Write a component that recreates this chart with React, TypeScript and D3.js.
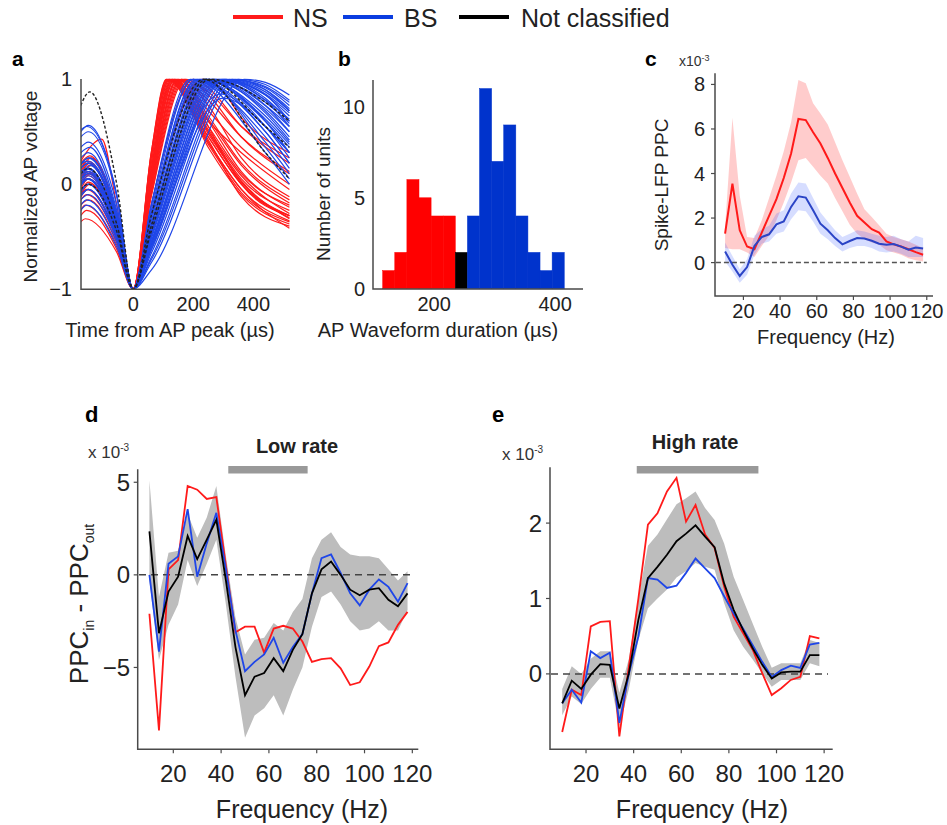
import * as d3 from 'd3';

const FONT = "'Liberation Sans', Arial, Helvetica, sans-serif";
const RED = '#ff1a1a';
const BLUE = '#1f46e8';
const BLUE_C = '#2b44c6';
const HIST_BLUE = '#0033cc';
const AXIS = '#4a4a4a';

// ---------- panel a: waveforms (control points)
// NS: [v(-175), bump, tBump, v(-55), v(60), tRepolPeak, v(250), v(360), v(520)]
const waveNS = [
  [0.05, 0.12, -150, -0.4, 0.3, 110, 0.45, 0.0, -0.3],
  [-0.1, -0.05, -155, -0.5, 0.25, 115, 0.4, -0.05, -0.35],
  [0.1, 0.2, -145, -0.35, 0.2, 120, 0.5, 0.05, -0.25],
  [-0.36, -0.33, -160, -0.65, 0.15, 125, 0.35, -0.1, -0.38],
  [0.22, 0.43, -105, -0.2, 0.12, 130, 0.6, 0.3, -0.05],
  [-0.2, -0.15, -150, -0.55, 0.28, 118, 0.42, -0.12, -0.4],
  [0.15, 0.25, -140, -0.3, 0.08, 135, 0.55, 0.1, -0.2],
  [-0.05, 0.05, -150, -0.45, 0.05, 140, 0.5, 0.02, -0.3],
  [0.2, 0.27, -145, -0.3, 0.0, 150, 0.7, 0.35, 0.0],
  [-0.15, -0.1, -155, -0.52, 0.3, 112, 0.38, -0.08, -0.36],
  [0.02, 0.1, -150, -0.42, 0.02, 145, 0.6, 0.12, -0.22],
  [-0.25, -0.2, -160, -0.58, 0.14, 128, 0.45, 0.0, -0.32],
  [0.1, 0.15, -150, -0.38, -0.05, 160, 0.8, 0.45, 0.12],
  [0.0, 0.08, -150, -0.43, -0.02, 155, 0.65, 0.2, -0.15],
  [-0.1, 0.0, -145, -0.48, -0.08, 165, 0.75, 0.25, -0.12],
  [0.05, 0.18, -140, -0.36, -0.1, 170, 0.88, 0.55, 0.25],
  [-0.3, -0.25, -155, -0.62, 0.2, 122, 0.4, -0.05, -0.42],
  [0.12, 0.2, -150, -0.34, 0.06, 138, 0.52, 0.08, -0.28],
  [-0.08, 0.02, -150, -0.46, 0.1, 132, 0.48, 0.03, -0.33],
  [0.18, 0.22, -150, -0.32, 0.01, 148, 0.62, 0.18, -0.18],
  [-0.02, 0.1, -145, -0.42, -0.12, 175, 0.85, 0.45, 0.1],
  [0.08, 0.12, -150, -0.4, -0.2, 200, 0.92, 0.55, 0.2],
  [-0.12, -0.05, -150, -0.5, -0.3, 230, 0.96, 0.6, 0.3],
  [0.0, 0.05, -150, -0.44, -0.04, 160, 0.55, 0.0, -0.3],
];
// BS / NC: [v(-175), bump, tBump, v(-55), v(60), tRepolPeak, peak, v(440), v(520)]
const waveBS = [
  [0.1, 0.15, -150, -0.38, -0.2, 190, 1, 0.45, 0.15],
  [0.0, 0.05, -155, -0.45, -0.25, 200, 1, 0.5, 0.2],
  [0.5, 0.56, -150, -0.1, -0.3, 210, 1, 0.55, 0.3],
  [-0.1, -0.05, -150, -0.5, -0.32, 220, 1, 0.6, 0.3],
  [0.2, 0.25, -145, -0.3, -0.35, 230, 1, 0.65, 0.4],
  [0.05, 0.1, -150, -0.42, -0.4, 240, 1, 0.7, 0.45],
  [-0.2, -0.15, -155, -0.56, -0.45, 250, 1, 0.75, 0.5],
  [0.15, 0.2, -150, -0.33, -0.48, 260, 1, 0.72, 0.5],
  [0.0, 0.05, -150, -0.45, -0.5, 270, 1, 0.8, 0.55],
  [0.45, 0.5, -150, -0.12, -0.55, 280, 1, 0.85, 0.6],
  [-0.05, 0.0, -150, -0.48, -0.58, 290, 1, 0.85, 0.65],
  [0.1, 0.18, -145, -0.35, -0.6, 300, 1, 0.88, 0.7],
  [0.25, 0.3, -150, -0.27, -0.63, 310, 1, 0.9, 0.72],
  [-0.15, -0.1, -150, -0.53, -0.66, 320, 1, 0.92, 0.75],
  [0.05, 0.12, -150, -0.4, -0.7, 330, 1, 0.93, 0.78],
  [0.2, 0.22, -150, -0.32, -0.75, 350, 1, 0.95, 0.8],
  [-0.25, -0.2, -155, -0.6, -0.82, 370, 1, 0.97, 0.85],
  [0.0, 0.08, -150, -0.44, -0.38, 240, 1, 0.55, 0.25],
  [0.12, 0.15, -150, -0.37, -0.28, 215, 1, 0.4, 0.1],
  [0.3, 0.35, -145, -0.25, -0.4, 235, 1, 0.6, 0.35],
  [-0.08, 0.0, -150, -0.47, -0.46, 255, 1, 0.68, 0.42],
  [0.15, 0.2, -150, -0.33, -0.52, 275, 1, 0.75, 0.55],
  [0.02, 0.1, -150, -0.42, -0.57, 295, 1, 0.8, 0.62],
  [0.52, 0.55, -155, -0.1, -0.5, 265, 1, 0.78, 0.58],
  [-0.12, -0.05, -150, -0.52, -0.55, 285, 1, 0.82, 0.6],
  [0.08, 0.14, -150, -0.38, -0.62, 305, 1, 0.86, 0.68],
  [0.18, 0.25, -150, -0.3, -0.3, 225, 1, 0.35, 0.05],
  [-0.02, 0.05, -150, -0.45, -0.42, 245, 1, 0.62, 0.38],
  [0.1, 0.12, -150, -0.38, -0.72, 340, 1, 0.9, 0.7],
  [0.35, 0.4, -150, -0.2, -0.2, 200, 1, 0.3, 0.0],
  [0.0, 0.05, -150, -0.45, -0.55, 290, 0.86, 0.5, 0.2],
  [0.15, 0.2, -150, -0.33, -0.6, 300, 0.82, 0.55, 0.3],
];
const waveNC = [
  [0.75, 0.88, -145, 0.0, -0.3, 235, 1, 0.3, 0.05],
  [0.1, 0.15, -150, -0.38, -0.45, 255, 1, 0.78, 0.6],
  [-0.05, 0.0, -150, -0.45, -0.4, 245, 1, 0.55, 0.35],
];

// ---------- panel b: histogram of waveform durations
const binStarts = [115, 135, 155, 175, 195, 215, 235, 255, 275, 295, 315, 335, 355, 375, 395];
const binCounts = [1, 2, 6, 5, 4, 4, 2, 4, 11, 7, 9, 4, 2, 1, 2];
const binClass = ['NS', 'NS', 'NS', 'NS', 'NS', 'NS', 'NC', 'BS', 'BS', 'BS', 'BS', 'BS', 'BS', 'BS', 'BS'];
const BIN_W = 20;

// ---------- panels c-e: frequency spectra (x 10^-3)
const freqs = [10, 14, 18, 22, 26, 30, 34, 38, 42, 46, 50, 54, 58, 62, 66, 70, 74, 78, 82, 86, 90, 94, 98, 102, 106, 110, 114, 118];

const cNs = [1.3, 3.55, 1.45, 0.72, 0.6, 1.35, 2.1, 2.85, 3.8, 4.9, 6.45, 6.4, 5.85, 5.35, 4.7, 4.0, 3.35, 2.7, 2.1, 1.8, 1.5, 1.35, 0.95, 0.82, 0.72, 0.6, 0.47, 0.35];
const cNsLo = [0.65, 0.6, 0.6, 0.45, 0.25, 0.75, 1.2, 1.9, 2.7, 3.6, 4.6, 4.7, 4.3, 3.9, 3.55, 2.9, 2.3, 1.7, 1.3, 1.05, 0.9, 0.8, 0.55, 0.45, 0.35, 0.2, 0.1, 0.05];
const cNsHi = [1.6, 6.5, 3.0, 1.15, 1.1, 1.9, 2.9, 3.9, 5.0, 6.3, 8.2, 8.05, 7.15, 6.7, 6.2, 5.4, 4.6, 3.85, 3.1, 2.4, 2.05, 1.68, 1.3, 1.15, 1.05, 0.95, 0.8, 0.65];
const cBs = [0.5, -0.1, -0.6, -0.2, 0.75, 1.15, 1.27, 1.72, 1.85, 2.5, 2.98, 2.92, 2.35, 1.75, 1.45, 1.1, 0.82, 0.97, 1.1, 1.08, 0.98, 0.85, 0.8, 0.83, 0.72, 0.58, 0.68, 0.63];
const cBsLo = [0.05, -0.4, -0.9, -0.55, 0.35, 0.85, 0.95, 1.3, 1.4, 1.95, 2.35, 2.3, 1.85, 1.3, 1.05, 0.75, 0.5, 0.65, 0.75, 0.75, 0.65, 0.5, 0.45, 0.5, 0.4, 0.25, 0.25, 0.25];
const cBsHi = [0.9, 0.3, -0.3, 0.15, 1.2, 1.5, 1.65, 2.2, 2.35, 3.1, 3.6, 3.55, 2.9, 2.25, 1.85, 1.45, 1.15, 1.3, 1.45, 1.4, 1.3, 1.2, 1.15, 1.2, 1.05, 0.95, 1.2, 1.1];

const dNs = [-2.1, -8.4, 0.3, 0.8, 4.8, 4.6, 4.1, 4.2, 0.5, -3.1, -2.8, -2.8, -4.2, -2.9, -2.75, -2.9, -3.6, -4.7, -4.55, -4.5, -5.05, -5.95, -5.8, -4.95, -3.85, -3.65, -2.7, -2.0];
const dBs = [0.0, -4.15, 0.6, 1.0, 3.55, -0.1, 1.7, 3.35, 0.3, -3.0, -5.2, -4.7, -4.3, -3.4, -4.75, -3.9, -3.2, -1.0, 0.9, 1.1, 0.1, -1.0, -1.65, -0.8, -0.25, -0.65, -1.45, -0.45];
const dAll = [2.35, -3.15, -0.9, -0.1, 2.1, 0.85, 1.9, 2.97, -0.3, -3.9, -6.5, -5.5, -5.3, -4.5, -5.2, -4.05, -3.2, -1.0, 0.3, 0.72, 0.0, -0.8, -1.1, -0.8, -0.72, -1.35, -1.7, -1.0];
const dAllLo = [-0.3, -4.6, -2.7, -1.6, 0.8, -0.6, 0.6, 1.9, -1.6, -5.5, -8.8, -7.6, -7.2, -6.5, -7.6, -6.2, -5.0, -2.8, -1.2, -0.9, -1.6, -2.5, -3.0, -2.9, -2.5, -3.0, -3.0, -1.9];
const dAllHi = [5.1, -1.2, 1.2, 1.3, 3.3, 2.0, 3.1, 4.8, 1.0, -2.3, -4.3, -3.5, -3.4, -2.6, -3.0, -2.0, -1.3, 0.9, 1.9, 2.3, 1.5, 1.1, 1.0, 1.0, 0.9, 0.3, -0.3, 0.2];

const eNs = [-0.77, -0.21, -0.28, 0.63, 0.69, 0.7, -0.83, 0.1, 1.0, 1.98, 2.13, 2.42, 2.6, 2.02, 2.24, 1.85, 1.67, 1.16, 0.76, 0.54, 0.32, 0.01, -0.28, -0.19, -0.08, -0.04, 0.5, 0.47];
const eBs = [-0.39, -0.21, -0.38, 0.3, 0.21, 0.28, -0.65, 0.0, 0.5, 1.27, 1.25, 1.14, 1.17, 1.34, 1.53, 1.4, 1.27, 1.03, 0.8, 0.6, 0.38, 0.16, -0.04, 0.05, 0.11, 0.08, 0.39, 0.41];
const eAll = [-0.39, -0.09, -0.2, -0.01, 0.13, 0.12, -0.46, 0.01, 0.72, 1.27, 1.42, 1.58, 1.76, 1.86, 1.97, 1.82, 1.68, 1.2, 0.85, 0.58, 0.34, 0.12, -0.06, 0.02, 0.03, 0.03, 0.25, 0.25];
const eAllLo = [-0.55, -0.3, -0.4, -0.2, -0.05, -0.05, -0.7, -0.2, 0.45, 0.87, 1.0, 1.12, 1.28, 1.36, 1.47, 1.42, 1.38, 0.94, 0.58, 0.36, 0.19, 0.01, -0.17, -0.08, -0.08, -0.08, 0.14, 0.1];
const eAllHi = [-0.2, 0.1, 0.0, 0.2, 0.3, 0.3, -0.25, 0.2, 1.0, 1.7, 1.85, 2.05, 2.25, 2.33, 2.42, 2.2, 2.04, 1.73, 1.29, 0.98, 0.67, 0.36, 0.08, 0.14, 0.14, 0.14, 0.45, 0.41];

const freqTicks = [20, 40, 60, 80, 100, 120];
const legendItems = [
  { label: 'NS', color: '#ff1a1a' },
  { label: 'BS', color: '#0a3de0' },
  { label: 'Not classified', color: '#000000' },
];

const minus = (v: number) => (v < 0 ? '\u2212' + Math.abs(v) : String(v));

function Frame({ x0, x1, y0, y1 }: { x0: number; x1: number; y0: number; y1: number }) {
  return <path d={`M${x0},${y0}V${y1}H${x1}`} fill="none" stroke={AXIS} strokeWidth={1.5} />;
}

export default function App() {
  // scales
  const xA = d3.scaleLinear().domain([-174, 522]).range([81, 290]);
  const yA = d3.scaleLinear().domain([-1, 1]).range([289, 79.3]);
  const xB = d3.scaleLinear().domain([99, 446]).range([373, 583]);
  const yB = d3.scaleLinear().domain([0, 11.47]).range([288.8, 80]);
  const xC = d3.scaleLinear().domain([4.5, 123.4]).range([715, 933]);
  const yC = d3.scaleLinear().domain([-1.5, 8.5]).range([296, 73.3]);
  const xD = d3.scaleLinear().domain([5.1, 122.5]).range([137.7, 418.3]);
  const yD = d3.scaleLinear().domain([-9.42, 5.7]).range([749.3, 469.3]);
  const xE = d3.scaleLinear().domain([4.87, 123.6]).range([550, 832.7]);
  const yE = d3.scaleLinear().domain([-1.0, 2.74]).range([749.3, 467.3]);

  const waveLine = d3
    .line<number[]>()
    .x((p) => xA(p[0]))
    .y((p) => yA(p[1]))
    .curve(d3.curveMonotoneX);

  const nsPath = (w: number[]) =>
    waveLine([
      [-175, w[0]],
      [w[2], w[1]],
      [-55, w[3]],
      [0, -1],
      [60, w[4]],
      [w[5], 1],
      [Math.max(250, w[5] + 45), w[6]],
      [Math.max(360, w[5] + 140), w[7]],
      [520, w[8]],
    ]);
  const bsPath = (w: number[]) => {
    const pts = [
      [-175, w[0]],
      [w[2], w[1]],
      [-55, w[3]],
      [0, -1],
      [60, w[4]],
      [w[5], w[6]],
    ];
    if (w[5] < 400) pts.push([440, w[7]]);
    pts.push([520, w[8]]);
    return waveLine(pts);
  };

  const specLine = (ys: number[], xs: d3.ScaleLinear<number, number>, yS: d3.ScaleLinear<number, number>) =>
    d3
      .line<number>()
      .x((_, i) => xs(freqs[i]))
      .y((d) => yS(d))(ys) || '';
  const specArea = (
    lo: number[],
    hi: number[],
    xs: d3.ScaleLinear<number, number>,
    yS: d3.ScaleLinear<number, number>
  ) =>
    d3
      .area<number>()
      .x((_, i) => xs(freqs[i]))
      .y0((_, i) => yS(lo[i]))
      .y1((d) => yS(d))(hi) || '';

  const histColor = (c: string) => (c === 'NS' ? '#ff0000' : c === 'BS' ? HIST_BLUE : '#000000');

  const legendX = [[233, 293], [343, 404], [459, 521]];

  return (
    <svg
      width={947}
      height={825}
      style={{ position: 'absolute', left: 0, top: 0, background: '#fff' }}
      fontFamily={FONT}
    >
      <defs>
        <clipPath id="clipA">
          <rect x={81} y={78} width={209} height={212} />
        </clipPath>
      </defs>
      <rect width={947} height={825} fill="#fff" />

      {/* legend */}
      {legendItems.map((it, i) => (
        <g key={it.label}>
          <line x1={legendX[i][0]} x2={legendX[i][0] + 50} y1={17} y2={17} stroke={it.color} strokeWidth={4} />
          <text x={legendX[i][1]} y={27} fontSize={25} fill="#222">
            {it.label}
          </text>
        </g>
      ))}

      {/* panel letters */}
      <g fontWeight="bold" fontSize={21} fill="#000">
        <text x={12} y={66}>a</text>
        <text x={338} y={66}>b</text>
        <text x={645} y={66}>c</text>
        <text x={85} y={422} fontSize={22}>d</text>
        <text x={492} y={422} fontSize={22}>e</text>
      </g>

      {/* ---------- panel a */}
      <g clipPath="url(#clipA)" fill="none">
        {waveNS.map((w, i) => (
          <path key={'r' + i} d={nsPath(w) || ''} stroke={RED} strokeWidth={1.2} />
        ))}
        {waveBS.map((w, i) => (
          <path key={'b' + i} d={bsPath(w) || ''} stroke={BLUE} strokeWidth={1.2} />
        ))}
        {waveNC.map((w, i) => (
          <path key={'k' + i} d={bsPath(w) || ''} stroke="#222" strokeWidth={1.4} strokeDasharray="3,2" />
        ))}
      </g>
      <Frame x0={81} x1={290} y0={79} y1={289.3} />
      <g fontSize={20} fill="#222">
        {[-1, 0, 1].map((v) => (
          <text key={v} x={72} y={yA(v) + 7} textAnchor="end">
            {minus(v)}
          </text>
        ))}
        {[0, 200, 400].map((v) => (
          <text key={v} x={xA(v)} y={311} textAnchor="middle">
            {v}
          </text>
        ))}
      </g>
      <text transform="translate(37,186.5) rotate(-90)" textAnchor="middle" fontSize={19} fill="#222">
        Normalized AP voltage
      </text>
      <text x={170} y={337} textAnchor="middle" fontSize={20} fill="#222">
        Time from AP peak (µs)
      </text>

      {/* ---------- panel b */}
      {binStarts.map((s, i) => (
        <rect
          key={s}
          x={xB(s)}
          y={yB(binCounts[i])}
          width={xB(s + BIN_W) - xB(s)}
          height={yB(0) - yB(binCounts[i])}
          fill={histColor(binClass[i])}
          stroke={histColor(binClass[i])}
          strokeWidth={0.5}
        />
      ))}
      <Frame x0={373} x1={583} y0={80} y1={289} />
      <g fontSize={20} fill="#222">
        {[0, 5, 10].map((v) => (
          <text key={v} x={365} y={yB(v) + 7} textAnchor="end">
            {v}
          </text>
        ))}
        {[200, 400].map((v) => (
          <text key={v} x={xB(v)} y={311} textAnchor="middle">
            {v}
          </text>
        ))}
      </g>
      <text transform="translate(330,194) rotate(-90)" textAnchor="middle" fontSize={19} fill="#222">
        Number of units
      </text>
      <text x={438} y={337} textAnchor="middle" fontSize={20} fill="#222">
        AP Waveform duration (µs)
      </text>

      {/* ---------- panel c */}
      <path d={specArea(cNsLo, cNsHi, xC, yC)} fill="#ff0000" fillOpacity={0.2} />
      <path d={specArea(cBsLo, cBsHi, xC, yC)} fill="#3355ff" fillOpacity={0.2} />
      <line x1={xC(5)} x2={xC(120)} y1={yC(0)} y2={yC(0)} stroke="#555" strokeWidth={1.5} strokeDasharray="5,3" />
      <path d={specLine(cNs, xC, yC)} fill="none" stroke={RED} strokeWidth={2} />
      <path d={specLine(cBs, xC, yC)} fill="none" stroke={BLUE_C} strokeWidth={2} />
      <Frame x0={715} x1={933} y0={73.3} y1={296} />
      <g stroke={AXIS} strokeWidth={1.2}>
        {[0, 2, 4, 6, 8].map((v) => (
          <line key={v} x1={711} x2={715} y1={yC(v)} y2={yC(v)} />
        ))}
        {freqTicks.map((v) => (
          <line key={v} x1={xC(v)} x2={xC(v)} y1={296} y2={300} />
        ))}
      </g>
      <g fontSize={20} fill="#222">
        {[0, 2, 4, 6, 8].map((v) => (
          <text key={v} x={705} y={yC(v) + 7} textAnchor="end">
            {v}
          </text>
        ))}
        {freqTicks.map((v) => (
          <text key={v} x={xC(v)} y={318} textAnchor="middle">
            {v}
          </text>
        ))}
      </g>
      <text x={679} y={66} fontSize={14} fill="#333">
        x10<tspan dy={-5} fontSize={9}>-3</tspan>
      </text>
      <text transform="translate(668,185) rotate(-90)" textAnchor="middle" fontSize={19} fill="#222">
        Spike-LFP PPC
      </text>
      <text x={826} y={344} textAnchor="middle" fontSize={20} fill="#222">
        Frequency (Hz)
      </text>

      {/* ---------- panel d */}
      <path d={specArea(dAllLo, dAllHi, xD, yD)} fill="#bdbdbd" />
      <line x1={139} x2={415} y1={yD(0)} y2={yD(0)} stroke="#444" strokeWidth={1.5} strokeDasharray="7,5" />
      <path d={specLine(dNs, xD, yD)} fill="none" stroke={RED} strokeWidth={1.8} />
      <path d={specLine(dBs, xD, yD)} fill="none" stroke={BLUE} strokeWidth={1.8} />
      <path d={specLine(dAll, xD, yD)} fill="none" stroke="#000" strokeWidth={1.8} />
      <Frame x0={137.7} x1={418.3} y0={469.3} y1={749.3} />
      <g stroke={AXIS} strokeWidth={1.2}>
        {[-5, 0, 5].map((v) => (
          <line key={v} x1={133.7} x2={137.7} y1={yD(v)} y2={yD(v)} />
        ))}
        {freqTicks.map((v) => (
          <line key={v} x1={xD(v)} x2={xD(v)} y1={749.3} y2={753.3} />
        ))}
      </g>
      <rect x={xD(43)} y={466} width={xD(76.2) - xD(43)} height={7.5} fill="#999" />
      <text x={297} y={453} textAnchor="middle" fontSize={20} fontWeight="bold" fill="#222">
        Low rate
      </text>
      <g fontSize={24} fill="#222">
        {[-5, 0, 5].map((v) => (
          <text key={v} x={130} y={yD(v) + 8.5} textAnchor="end">
            {minus(v)}
          </text>
        ))}
        {freqTicks.map((v) => (
          <text key={v} x={xD(v)} y={782} textAnchor="middle">
            {v}
          </text>
        ))}
      </g>
      <text x={88} y={458} fontSize={17} fill="#333">
        x 10<tspan dy={-7} fontSize={10}>-3</tspan>
      </text>
      <text transform="translate(88,604) rotate(-90)" textAnchor="middle" fontSize={26} fill="#222">
        PPC<tspan dy={6} fontSize={14}>in</tspan>
        <tspan dy={-6}> - PPC</tspan>
        <tspan dy={6} fontSize={14}>out</tspan>
      </text>
      <text x={302} y={818} textAnchor="middle" fontSize={25} fill="#222">
        Frequency (Hz)
      </text>

      {/* ---------- panel e */}
      <path d={specArea(eAllLo, eAllHi, xE, yE)} fill="#bdbdbd" />
      <line x1={551} x2={828} y1={yE(0)} y2={yE(0)} stroke="#444" strokeWidth={1.5} strokeDasharray="7,5" />
      <path d={specLine(eNs, xE, yE)} fill="none" stroke={RED} strokeWidth={1.8} />
      <path d={specLine(eBs, xE, yE)} fill="none" stroke={BLUE} strokeWidth={1.8} />
      <path d={specLine(eAll, xE, yE)} fill="none" stroke="#000" strokeWidth={1.8} />
      <Frame x0={550} x1={832.7} y0={467.3} y1={749.3} />
      <g stroke={AXIS} strokeWidth={1.2}>
        {[0, 1, 2].map((v) => (
          <line key={v} x1={546} x2={550} y1={yE(v)} y2={yE(v)} />
        ))}
        {freqTicks.map((v) => (
          <line key={v} x1={xE(v)} x2={xE(v)} y1={749.3} y2={753.3} />
        ))}
      </g>
      <rect x={xE(41.3)} y={466} width={xE(92.4) - xE(41.3)} height={7.5} fill="#999" />
      <text x={695} y={449} textAnchor="middle" fontSize={20} fontWeight="bold" fill="#222">
        High rate
      </text>
      <g fontSize={24} fill="#222">
        {[0, 1, 2].map((v) => (
          <text key={v} x={542} y={yE(v) + 8.5} textAnchor="end">
            {v}
          </text>
        ))}
        {freqTicks.map((v) => (
          <text key={v} x={xE(v)} y={782} textAnchor="middle">
            {v}
          </text>
        ))}
      </g>
      <text x={502} y={460} fontSize={17} fill="#333">
        x 10<tspan dy={-7} fontSize={10}>-3</tspan>
      </text>
      <text x={702} y={818} textAnchor="middle" fontSize={25} fill="#222">
        Frequency (Hz)
      </text>
    </svg>
  );
}
